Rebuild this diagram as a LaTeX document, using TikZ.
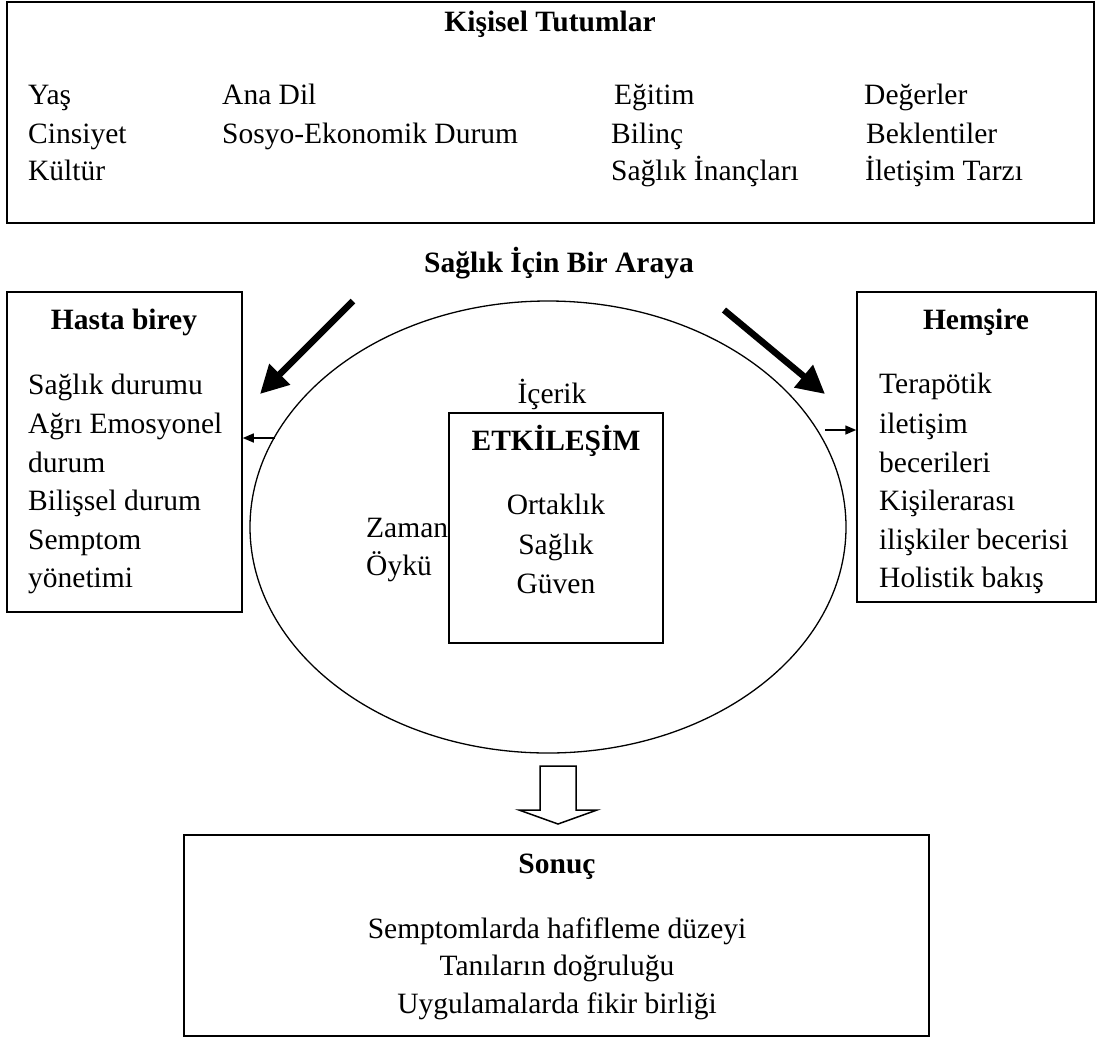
\documentclass[tikz,border=0pt]{standalone}
\usepackage{fontspec}
\setmainfont{Liberation Serif}
\usepackage{tikz}
\usetikzlibrary{arrows.meta,shapes.geometric}
\tikzset{
  frame/.style={draw, line width=1.5pt, inner sep=0pt},
  ring/.style={draw, ellipse, line width=1.3pt, inner sep=0pt},
  txt/.style={anchor=base west, inner sep=0pt, font=\fontsize{29.5}{36}\selectfont},
  ctr/.style={anchor=base, inner sep=0pt, font=\fontsize{29.5}{36}\selectfont},
  head/.style={ctr, font=\fontsize{29.5}{36}\selectfont\bfseries},
  fat/.style={line width=6.5pt, -{Triangle[length=28pt,width=28pt]}},
  smallarr/.style={line width=1.5pt, -{Triangle[length=11pt,width=9pt]}},
  hollow/.style={draw, line width=1.5pt, line join=miter, fill=white},
}

\begin{document}
\begin{tikzpicture}[x=1pt,y=-1pt]
  \useasboundingbox (0,0) rectangle (1099,1039);

  % Kisisel Tutumlar
  \node[frame, line width=2pt, minimum width=1087pt, minimum height=221pt] (top) at (550.5,112.5) {};
  \node[head] (kt) at (550,31) {Kişisel Tutumlar};
  \node[txt] (yas) at (28,104) {Yaş};
  \node[txt] (cins) at (28,143) {Cinsiyet};
  \node[txt] (kult) at (28,180) {Kültür};
  \node[txt] (dil) at (222,104) {Ana Dil};
  \node[txt] (sosyo) at (222,143) {Sosyo-Ekonomik Durum};
  \node[txt] (egit) at (614,104) {Eğitim};
  \node[txt] (bilinc) at (611,143) {Bilinç};
  \node[txt] (inanc) at (611,180) {Sağlık İnançları};
  \node[txt] (deger) at (864,104) {Değerler};
  \node[txt] (bekl) at (866,143) {Beklentiler};
  \node[txt] (tarz) at (865,180) {İletişim Tarzı};

  \node[head] (meet) at (559,272) {Sağlık İçin Bir Araya};

  % ellipse with interaction box
  \node[ring, minimum width=596pt, minimum height=452pt] (circ) at (548,527) {};
  \node[frame, minimum width=214pt, minimum height=230pt] (etk) at (556,528) {};
  \node[ctr] (icerik) at (552,403) {İçerik};
  \node[head] (etkt) at (556,450) {ETKİLEŞİM};
  \node[ctr] (ort) at (556,514) {Ortaklık};
  \node[ctr] (sag) at (556,554) {Sağlık};
  \node[ctr] (guv) at (556,593) {Güven};
  \node[txt] (zaman) at (366,537) {Zaman};
  \node[txt] (oyku) at (366,575) {Öykü};

  % Hasta birey
  \node[frame, minimum width=235pt, minimum height=320pt] (hasta) at (124.5,452) {};
  \node[head] (hastat) at (124,329) {Hasta birey};
  \node[txt] (h1) at (28,394) {Sağlık durumu};
  \node[txt] (h2) at (28,433) {Ağrı Emosyonel};
  \node[txt] (h3) at (28,472) {durum};
  \node[txt] (h4) at (28,510) {Bilişsel durum};
  \node[txt] (h5) at (28,549) {Semptom};
  \node[txt] (h6) at (28,587) {yönetimi};

  % Hemsire
  \node[frame, minimum width=239pt, minimum height=310pt] (hemsire) at (976.5,447) {};
  \node[head] (hemt) at (976,329) {Hemşire};
  \node[txt] (n1) at (879,393) {Terapötik};
  \node[txt] (n2) at (879,433) {iletişim};
  \node[txt] (n3) at (879,472) {becerileri};
  \node[txt] (n4) at (879,510) {Kişilerarası};
  \node[txt] (n5) at (879,549) {ilişkiler becerisi};
  \node[txt] (n6) at (879,587) {Holistik bakış};

  % arrows
  \coordinate (la) at (353,301);
  \coordinate (lb) at (260,394);
  \coordinate (ra) at (724,310);
  \coordinate (rb) at (825,394);
  \draw[fat] (la) -- (lb);
  \draw[fat] (ra) -- (rb);
  \coordinate (lout) at (275,438);
  \coordinate (rout) at (825,430);
  \draw[smallarr] (lout) -- (hasta.east |- lout);
  \draw[smallarr] (rout) -- (hemsire.west |- rout);

  \draw[hollow] (540,766) -- (576,766) -- (576,810) -- (597,810) -- (558,824)
    -- (519,810) -- (540,810) -- cycle;

  % Sonuc
  \node[frame, line width=2pt, minimum width=745pt, minimum height=201pt] (sonuc) at (556.5,935.5) {};
  \node[head] (sonuct) at (557,873) {Sonuç};
  \node[ctr] (s1) at (557,938) {Semptomlarda hafifleme düzeyi};
  \node[ctr] (s2) at (557,975) {Tanıların doğruluğu};
  \node[ctr] (s3) at (557,1013) {Uygulamalarda fikir birliği};
\end{tikzpicture}
\end{document}
